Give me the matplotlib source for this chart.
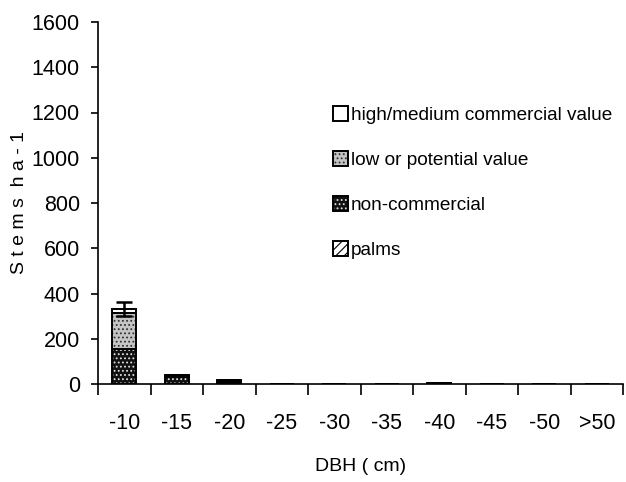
"""Stacked stem density by diameter class, split by commercial value group."""
import matplotlib.pyplot as plt
import numpy as np
from matplotlib.legend_handler import HandlerTuple
from matplotlib.patches import Patch

plt.rcParams["font.family"] = ["Liberation Sans", "DejaVu Sans"]
plt.rcParams["hatch.linewidth"] = 0.8

dbh_classes = ["-10", "-15", "-20", "-25", "-30", "-35", "-40", "-45", "-50", ">50"]
palms = [0, 0, 0, 0, 0, 0, 0, 0, 0, 0]
non_commercial = [155, 32, 10, 0, 0, 0, 2, 0, 0, 0]
low_value = [160, 6, 8, 0, 0, 0, 1, 0, 0, 0]
high_value = [16, 2, 0, 0, 0, 0, 0, 0, 0, 0]
total_err = [31, 0, 0, 0, 0, 0, 0, 0, 0, 0]

# face colour, hatch, hatch colour for each group (bottom to top)
groups = [
    ("palms", palms, "white", "////", "black"),
    ("non-commercial", non_commercial, "#111111", "....", "#e0e0e0"),
    ("low or potential value", low_value, "#c4c4c4", "....", "#303030"),
    ("high/medium commercial value", high_value, "white", None, "black"),
]

fig = plt.figure(figsize=(6.26, 4.82), dpi=100)
ax = fig.add_axes([98 / 626, 1 - 384 / 482, 525 / 626, 362 / 482])

x = np.arange(len(dbh_classes))
width = 0.46
bottom = np.zeros(len(x))
handles = {}
for label, vals, face, hatch, hcolor in groups:
    vals = np.asarray(vals, dtype=float)
    ax.bar(x, vals, width, bottom=bottom, color=face, edgecolor=hcolor,
           hatch=hatch, linewidth=0, zorder=2)
    ax.bar(x, vals, width, bottom=bottom, fill=False, edgecolor="black",
           linewidth=1.4, zorder=3)
    handles[label] = (
        Patch(facecolor=face, edgecolor=hcolor, hatch=hatch, linewidth=0),
        Patch(fill=False, edgecolor="black", linewidth=1.4),
    )
    bottom += vals

err = np.asarray(total_err, dtype=float)
has_err = err > 0
ax.errorbar(x[has_err], bottom[has_err], yerr=err[has_err], fmt="none",
            ecolor="black", elinewidth=1.8, capsize=6, capthick=1.8, zorder=4)

ax.set_xlim(-0.5, len(x) - 0.5)
ax.set_ylim(0, 1600)
ax.set_yticks(np.arange(0, 1601, 200))
ax.set_xticks(x)
ax.set_xticklabels(dbh_classes)
ax.set_xticks(np.arange(-0.5, len(x)), minor=True)
ax.tick_params(axis="x", which="major", length=0, pad=21, labelsize=15.5)
ax.tick_params(axis="x", which="minor", length=8, width=1.2, direction="out")
ax.tick_params(axis="y", length=5, width=1.2, labelsize=15.5, pad=8)
for side in ("top", "right"):
    ax.spines[side].set_visible(False)
for side in ("left", "bottom"):
    ax.spines[side].set_linewidth(1.2)

ax.set_xlabel("DBH ( cm)", fontsize=14, labelpad=17)
ax.set_ylabel("S t e m s  h a - 1", fontsize=14, labelpad=3)

order = ["high/medium commercial value", "low or potential value",
         "non-commercial", "palms"]
ax.legend([handles[k] for k in order], order, loc="upper left",
          bbox_to_anchor=(0.434, 0.79), frameon=False, fontsize=13.7,
          handlelength=0.75, handleheight=0.85, handletextpad=0.15,
          labelspacing=1.42, borderaxespad=0,
          handler_map={tuple: HandlerTuple(ndivide=1)})

fig.savefig("out.png", dpi=100)
plt.close(fig)
